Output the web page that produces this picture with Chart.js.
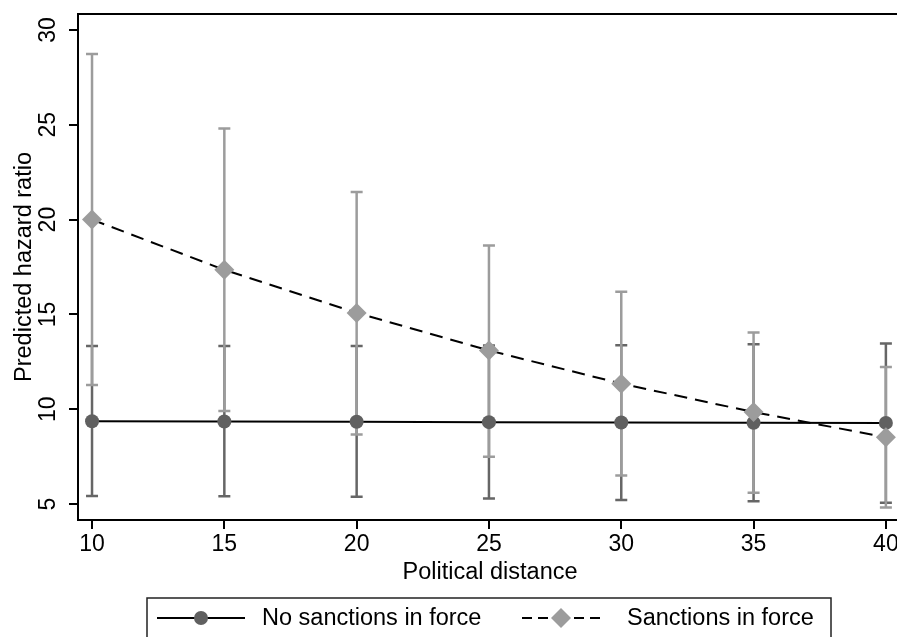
<!DOCTYPE html>
<html>
<head>
<meta charset="utf-8">
<script src="https://cdn.jsdelivr.net/npm/chart.js@4.4.1/dist/chart.umd.min.js"></script>
<style>
  html, body { margin: 0; padding: 0; background: #fff; }
  canvas { display: block; }
</style>
</head>
<body>
<canvas id="hazardChart" width="897" height="637"></canvas>
<script>
// DATA
const distance = [10, 15, 20, 25, 30, 35, 40];
const noSanctions = [9.37, 9.35, 9.34, 9.32, 9.30, 9.29, 9.28];
const noSanctionsLow = [5.42, 5.41, 5.38, 5.30, 5.22, 5.15, 5.07];
const noSanctionsHigh = [13.34, 13.34, 13.34, 13.36, 13.37, 13.43, 13.47];
const sanctions = [20.0, 17.35, 15.08, 13.1, 11.35, 9.85, 8.52];
const sanctionsLow = [11.28, 9.91, 8.67, 7.5, 6.5, 5.6, 4.82];
const sanctionsHigh = [28.73, 24.8, 21.45, 18.63, 16.2, 14.05, 12.23];
const xTicks = [10, 15, 20, 25, 30, 35, 40];
const yTicks = [5, 10, 15, 20, 25, 30];

const FONT = '"Liberation Sans", Arial, Helvetica, sans-serif';
const darkGray = '#606060';
const lightGray = '#9c9c9c';

const pts = (ys) => distance.map((x, i) => ({ x: x, y: ys[i] }));

// error bars, drawn under the lines
const errorBars = {
  id: 'errorBars',
  beforeDatasetsDraw(chart) {
    const { ctx, scales: { x, y } } = chart;
    const bars = [
      { low: noSanctionsLow, high: noSanctionsHigh, color: '#666666' },
      { low: sanctionsLow, high: sanctionsHigh, color: lightGray }
    ];
    ctx.save();
    ctx.lineWidth = 2.5;
    bars.forEach(b => {
      ctx.strokeStyle = b.color;
      distance.forEach((d, i) => {
        const px = x.getPixelForValue(d);
        const y1 = y.getPixelForValue(b.low[i]);
        const y2 = y.getPixelForValue(b.high[i]);
        ctx.beginPath();
        ctx.moveTo(px, y1); ctx.lineTo(px, y2);
        ctx.moveTo(px - 6, y1); ctx.lineTo(px + 6, y1);
        ctx.moveTo(px - 6, y2); ctx.lineTo(px + 6, y2);
        ctx.stroke();
      });
    });
    ctx.restore();
  }
};

// texts, frame and legend
const decorations = {
  id: 'decorations',
  afterDraw(chart) {
    const { ctx, chartArea: a, scales: { y } } = chart;
    ctx.save();
    // top border
    ctx.strokeStyle = '#000';
    ctx.lineWidth = 2;
    ctx.beginPath();
    ctx.moveTo(a.left - 1, a.top); ctx.lineTo(a.right, a.top);
    ctx.stroke();

    ctx.fillStyle = '#000';
    ctx.font = '23px ' + FONT;
    // y tick labels (rotated)
    y.ticks.forEach(t => {
      const py = y.getPixelForValue(t.value);
      ctx.save();
      ctx.translate(55, py);
      ctx.rotate(-Math.PI / 2);
      ctx.textAlign = 'center';
      ctx.textBaseline = 'alphabetic';
      ctx.fillText(String(t.value), 0, 0);
      ctx.restore();
    });
    // y title
    ctx.save();
    ctx.translate(31, (a.top + a.bottom) / 2);
    ctx.rotate(-Math.PI / 2);
    ctx.textAlign = 'center';
    ctx.textBaseline = 'alphabetic';
    ctx.font = '23.5px ' + FONT;
    ctx.fillText('Predicted hazard ratio', 0, 0);
    ctx.restore();
    // x title
    ctx.font = '23.5px ' + FONT;
    ctx.textAlign = 'center';
    ctx.textBaseline = 'alphabetic';
    ctx.fillText('Political distance', 490, 579);

    // legend
    ctx.strokeStyle = '#222';
    ctx.lineWidth = 1.5;
    ctx.strokeRect(147, 598, 684, 60);
    const ly = 618;
    const ds = chart.data.datasets;
    // item 1
    ctx.strokeStyle = ds[0].borderColor;
    ctx.lineWidth = 2;
    ctx.beginPath(); ctx.moveTo(157, ly); ctx.lineTo(245, ly); ctx.stroke();
    ctx.fillStyle = ds[0].pointBackgroundColor;
    ctx.beginPath(); ctx.arc(201, ly, 7, 0, Math.PI * 2); ctx.fill();
    // item 2
    ctx.strokeStyle = ds[1].borderColor;
    ctx.setLineDash([10, 6]);
    ctx.beginPath(); ctx.moveTo(522, ly); ctx.lineTo(561, ly); ctx.stroke();
    ctx.beginPath(); ctx.moveTo(600, ly); ctx.lineTo(561, ly); ctx.stroke();
    ctx.setLineDash([]);
    ctx.fillStyle = ds[1].pointBackgroundColor;
    ctx.beginPath();
    ctx.moveTo(551, ly); ctx.lineTo(561, ly - 10); ctx.lineTo(571, ly); ctx.lineTo(561, ly + 10);
    ctx.closePath(); ctx.fill();
    ctx.fillStyle = '#000';
    ctx.textAlign = 'left';
    ctx.textBaseline = 'middle';
    ctx.fillText('No sanctions in force', 262, ly + 1);
    ctx.fillText('Sanctions in force', 627, ly + 1);
    ctx.restore();
  }
};

new Chart(document.getElementById('hazardChart').getContext('2d'), {
  type: 'line',
  data: {
    datasets: [
      {
        label: 'No sanctions in force',
        data: pts(noSanctions),
        borderColor: '#000',
        borderWidth: 2,
        pointStyle: 'circle',
        pointRadius: 7,
        pointBackgroundColor: darkGray,
        pointBorderWidth: 0,
        order: 1
      },
      {
        label: 'Sanctions in force',
        data: pts(sanctions),
        borderColor: '#000',
        borderWidth: 2,
        borderDash: [13, 8],
        pointStyle: 'rectRot',
        pointRadius: 10,
        pointBackgroundColor: lightGray,
        pointBorderWidth: 0,
        order: 0
      }
    ]
  },
  options: {
    responsive: false,
    animation: false,
    events: [],
    layout: { autoPadding: false, padding: { top: 14, left: 0, right: 0, bottom: 0 } },
    plugins: { legend: { display: false }, tooltip: { enabled: false } },
    scales: {
      x: {
        type: 'linear',
        min: 9.47,
        max: 40.42,
        afterBuildTicks: s => { s.ticks = xTicks.map(v => ({ value: v })); },
        afterFit: s => { s.height = 117; s.paddingLeft = 0; s.paddingRight = 0; },
        grid: { display: true, drawOnChartArea: false, drawTicks: true, tickLength: 9, color: '#000', lineWidth: 2 },
        border: { display: true, color: '#000', width: 2 },
        ticks: { color: '#000', font: { family: FONT, size: 23 }, padding: 2, maxRotation: 0 }
      },
      y: {
        type: 'linear',
        min: 4.16,
        max: 30.84,
        afterBuildTicks: s => { s.ticks = yTicks.map(v => ({ value: v })); },
        afterFit: s => { s.width = 78; },
        grid: { display: true, drawOnChartArea: false, drawTicks: true, tickLength: 9, color: '#000', lineWidth: 2 },
        border: { display: true, color: '#000', width: 2 },
        ticks: { display: false }
      }
    }
  },
  plugins: [errorBars, decorations]
});
</script>
</body>
</html>
